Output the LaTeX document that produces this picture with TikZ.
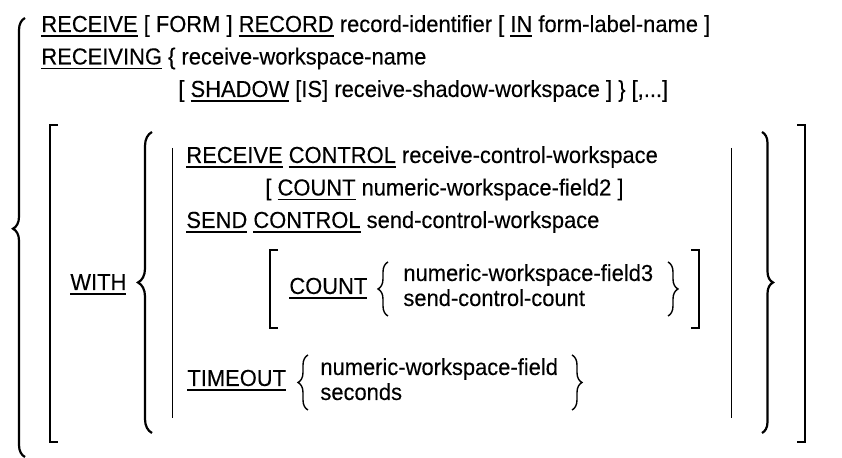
\documentclass[tikz,border=0pt]{standalone}
\usepackage{fontspec}
\setmainfont{Liberation Sans}[FakeStretch=0.945,FakeBold=0.2]
\usetikzlibrary{decorations.pathreplacing}
% underlined keyword
\newcommand{\kw}[1]{\setbox0=\hbox{#1}\rlap{\rule[-2.3pt]{\wd0}{0.75pt}}\box0\relax}

\begin{document}
\begin{tikzpicture}[x=0.5pt,y=-0.5pt,
  txt/.style={anchor=base west,inner sep=0pt,font=\fontsize{11.6}{14}\selectfont},
  fence/.style={line width=1.2pt},
  thinbar/.style={line width=0.5pt},
  bigbrace/.style={line width=1.1pt,decorate,decoration={brace,amplitude=#1}},
  smallbrace/.style={line width=0.7pt,decorate,decoration={brace,amplitude=#1}}]
\useasboundingbox (0,0) rectangle (842,458);

% header lines
\node[txt] (recv) at (41,32) {\kw{RECEIVE} [ FORM ] \kw{RECORD} record-identifier [ \kw{IN} form-label-name ]};
\node[txt] (rcving) at (41,64.5) {\kw{RECEIVING} \{ receive-workspace-name};
\node[txt] (shadow) at (178,97) {[ \kw{SHADOW} [IS] receive-shadow-workspace ] \} [,...]};

% outer brace and brackets
\draw[bigbrace=6pt,decoration={aspect=0.52}] (25,457) -- (25,18);
\draw[fence] (58,125) -- (50,125) -- (50,442) -- (58,442);
\draw[fence] (797,125) -- (805,125) -- (805,442) -- (797,442);
\node[txt] (with) at (70,290) {\kw{WITH}};
\draw[bigbrace=7pt] (152,433) -- (152,132);
\draw[bigbrace=5.5pt] (762,132) -- (762,433);
\draw[thinbar] (172,148) -- (172,418);
\draw[thinbar] (731,148) -- (731,418);

% control clauses
\node[txt] (rcvctl) at (186,163) {\kw{RECEIVE} \kw{CONTROL} receive-control-workspace};
\node[txt] (cnt2) at (265,195.5) {[ \kw{COUNT} numeric-workspace-field2 ]};
\node[txt] (sendctl) at (186,228) {\kw{SEND} \kw{CONTROL} send-control-workspace};

% count option
\draw[fence] (278,250) -- (270,250) -- (270,328) -- (278,328);
\draw[fence] (691,250) -- (699,250) -- (699,328) -- (691,328);
\node[txt] (count) at (289,294) {\kw{COUNT}};
\draw[smallbrace=5pt] (388,316) -- (388,262);
\node[txt] (num3) at (403,281) {numeric-workspace-field3};
\node[txt] (scc) at (403,306) {send-control-count};
\draw[smallbrace=5pt] (668,262) -- (668,316);

% timeout option
\node[txt] (timeout) at (187,386) {\kw{TIMEOUT}};
\draw[smallbrace=5pt] (308,410) -- (308,355);
\node[txt] (numf) at (320,375) {numeric-workspace-field};
\node[txt] (sec) at (320,400) {seconds};
\draw[smallbrace=5pt] (572,355) -- (572,410);
\end{tikzpicture}
\end{document}
